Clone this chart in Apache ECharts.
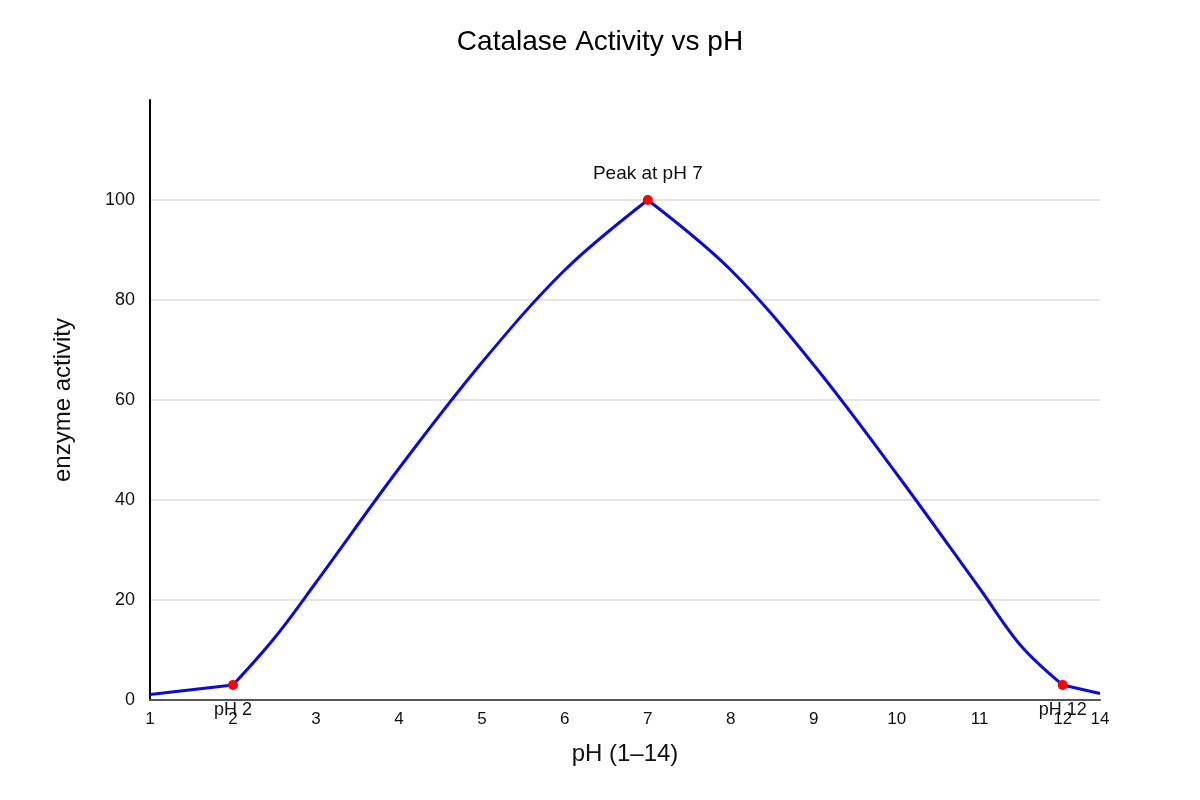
<!DOCTYPE html>
<html>
<head>
<meta charset="utf-8">
<title>Catalase Activity vs pH</title>
<script src="https://cdn.jsdelivr.net/npm/echarts@6/dist/echarts.min.js"></script>
<style>
  html, body { margin: 0; padding: 0; background: #fff; }
  #chart { width: 1200px; height: 800px; }
</style>
</head>
<body>
<div id="chart"></div>
<script>
// curve (x = pH position on the axis, y = activity)
const phValues = [1, 2, 2.5, 3, 4, 5, 6, 7, 8, 9, 10, 11, 11.5, 12, 12.45];
const activity = [1.1, 3, 12.4, 23.5, 46.3, 67.5, 86, 100, 86, 67, 45.2, 22.3, 10.8, 3, 1.3];

// highlighted points (the curve bends at each of them)
const markPh = [2, 7, 12];
const markActivity = [3, 100, 3];
const markLabels = ['pH 2', 'Peak at pH 7', 'pH 12'];

// axis
const xMin = 1;
const xMax = 12.45;
const xEndLabel = '14';

const FONT = '"Liberation Sans", Arial, sans-serif';

const chart = echarts.init(document.getElementById('chart'));

const points = phValues.map((x, i) => [x, activity[i]]);

// split the curve at the marked points so each piece is smoothed on its own
const cuts = [0, ...markPh.map(p => phValues.indexOf(p)), phValues.length - 1];
const pieces = [];
for (let i = 0; i < cuts.length - 1; i++) {
  pieces.push(points.slice(cuts[i], cuts[i + 1] + 1));
}

const lineSeries = pieces.map(seg => ({
  type: 'line',
  data: seg,
  smooth: 0.35,
  symbol: 'none',
  lineStyle: { color: '#0b0bd9', width: 3 },
  z: 2
}));

const markData = markPh.map((x, i) => {
  const up = markActivity[i] > 50;
  return {
    value: [x, markActivity[i]],
    label: {
      show: true,
      formatter: markLabels[i],
      position: up ? 'top' : 'bottom',
      distance: up ? 12 : 11,
      fontSize: up ? 19 : 18,
      color: '#111',
      fontFamily: FONT
    }
  };
});

chart.setOption({
  animation: false,
  backgroundColor: '#fff',
  textStyle: { fontFamily: FONT },
  title: {
    text: 'Catalase Activity vs pH',
    left: 'center',
    top: 23,
    textStyle: { fontSize: 28, fontWeight: 'normal', color: '#000', fontFamily: FONT }
  },
  grid: { left: 150, right: 100, top: 100, bottom: 100, containLabel: false },
  xAxis: {
    type: 'value',
    min: xMin,
    max: xMax,
    interval: 1,
    name: 'pH (1–14)',
    nameLocation: 'middle',
    nameGap: 42,
    nameTextStyle: { fontSize: 24, color: '#111', fontFamily: FONT },
    axisLine: { show: true, onZero: false, lineStyle: { color: '#555', width: 2 } },
    axisTick: { show: false },
    splitLine: { show: false },
    axisLabel: {
      fontSize: 17,
      color: '#111',
      margin: 11,
      showMinLabel: true,
      showMaxLabel: true,
      hideOverlap: false,
      formatter: v => (Math.abs(v - xMax) < 1e-6 ? xEndLabel : String(v))
    }
  },
  yAxis: {
    type: 'value',
    min: 0,
    max: 120,
    interval: 20,
    name: 'enzyme activity',
    nameLocation: 'middle',
    nameGap: 75,
    nameTextStyle: { fontSize: 24, color: '#111', fontFamily: FONT },
    axisLine: { show: true, lineStyle: { color: '#000', width: 2 } },
    axisTick: { show: false },
    splitLine: { show: true, showMinLine: false, showMaxLine: false, lineStyle: { color: '#dddddd', width: 1.5 } },
    axisLabel: {
      fontSize: 18,
      color: '#111',
      margin: 15,
      showMaxLabel: false
    }
  },
  series: [
    ...lineSeries,
    {
      type: 'scatter',
      data: markData,
      symbolSize: 10,
      itemStyle: { color: '#ff0000', opacity: 1 },
      z: 3
    }
  ]
});
</script>
</body>
</html>
